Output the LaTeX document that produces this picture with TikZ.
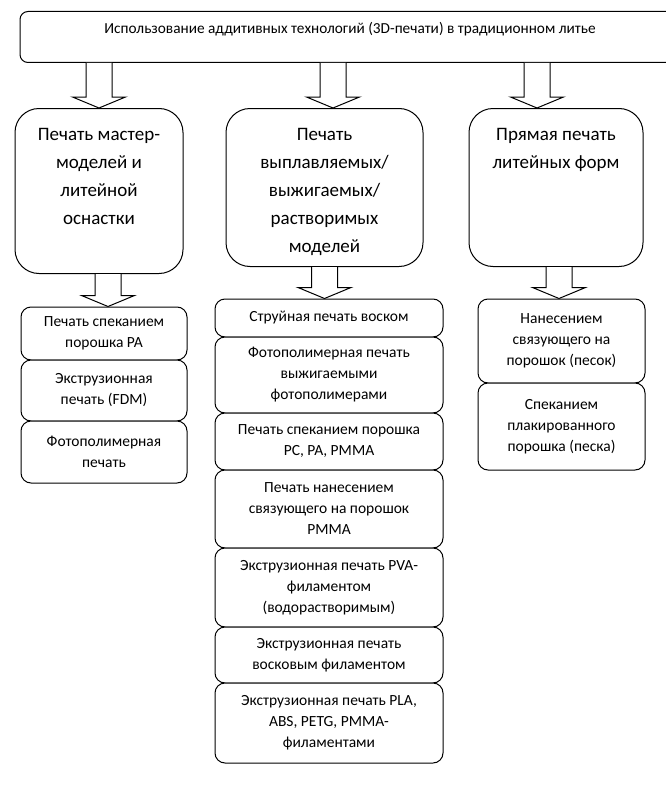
\documentclass[tikz,border=0pt]{standalone}
\usepackage{fontspec}
\setmainfont{Carlito}
\usetikzlibrary{calc}
\newcommand\bigfont{\fontsize{19}{28}\selectfont}
\newcommand\topfont{\fontsize{15.3}{17}\selectfont}
\newcommand\smallfont{\fontsize{15.5}{21}\selectfont}
\newcommand\bigtxt[3]{\parbox[t][#1][t]{#2}{\centering\bigfont\vspace*{12pt}\strut #3}}
\newcommand\barrow[3]{\draw[blockarrow] let \p1=(#2.south), \p2=(#3.north) in
  (#1pt-13pt,\y1) -- (#1pt-13pt,\y2+11pt) -- (#1pt-26.5pt,\y2+11pt) -- (#1pt,\y2)
  -- (#1pt+26.5pt,\y2+11pt) -- (#1pt+13pt,\y2+11pt) -- (#1pt+13pt,\y1);}
\tikzset{
  boxbase/.style={draw=black, line width=1pt, fill=white, inner sep=0pt},
  topbox/.style={boxbase, rounded corners=8pt, anchor=north},
  midbox/.style={boxbase, rounded corners=24pt, anchor=north},
  smallbox/.style={boxbase, rounded corners=10pt, align=center, font=\smallfont},
  blockarrow/.style={draw=black, line width=1pt, fill=white, line join=miter},
}
\begin{document}
\begin{tikzpicture}[x=1pt,y=-1pt]
\useasboundingbox (0,0) rectangle (666,800);
\clip (0,0) rectangle (666,800);
\fill[white] (0,0) rectangle (666,800);
% top box
\node[topbox] (top) at (350,11) {\parbox[t][51pt][t]{660pt}{\centering\topfont\vspace*{10pt}\strut Использование аддитивных технологий (3D-печати) в традиционном литье}};
% level 2
\node[midbox] (l1) at (99,108) {\bigtxt{165pt}{168pt}{Печать мастер-\\моделей и\\литейной\\оснастки}};
\node[midbox] (l2) at (324.5,108) {\bigtxt{158pt}{197pt}{Печать\\выплавляемых/\\выжигаемых/\\растворимых\\моделей}};
\node[midbox] (l3) at (556,108) {\bigtxt{158pt}{174pt}{Прямая печать\\литейных форм}};
% column 1
\node[smallbox, minimum width=166pt, minimum height=53pt] (c1a) at (104,333.5) {Печать спеканием\\порошка PA};
\node[smallbox, minimum width=166pt, minimum height=61pt] (c1b) at (104,390.5) {Экструзионная\\печать (FDM)};
\node[smallbox, minimum width=166pt, minimum height=62pt] (c1c) at (104,452) {Фотополимерная\\печать};
% column 2
\node[smallbox, minimum width=228pt, minimum height=38pt] (c2a) at (329,318) {Струйная печать воском};
\node[smallbox, minimum width=228pt, minimum height=76pt] (c2b) at (329,375) {Фотополимерная печать\\выжигаемыми\\фотополимерами};
\node[smallbox, minimum width=228pt, minimum height=57pt] (c2c) at (329,441.5) {Печать спеканием порошка\\PC, PA, PMMA};
\node[smallbox, minimum width=228pt, minimum height=78pt] (c2d) at (329,509) {Печать нанесением\\связующего на порошок\\PMMA};
\node[smallbox, minimum width=228pt, minimum height=79pt] (c2e) at (329,587.5) {Экструзионная печать PVA-\\филаментом\\(водорастворимым)};
\node[smallbox, minimum width=228pt, minimum height=56pt] (c2f) at (329,655) {Экструзионная печать\\восковым филаментом};
\node[smallbox, minimum width=228pt, minimum height=80pt] (c2g) at (329,723) {Экструзионная печать PLA,\\ABS, PETG, PMMA-\\филаментами};
% column 3
\node[smallbox, minimum width=167pt, minimum height=84pt] (c3a) at (561.5,341) {Нанесением\\связующего на\\порошок (песок)};
\node[smallbox, minimum width=167pt, minimum height=87pt] (c3b) at (561.5,426.5) {Спеканием\\плакированного\\порошка (песка)};
% arrows
\barrow{99}{top}{l1}
\barrow{333}{top}{l2}
\barrow{537}{top}{l3}
\barrow{108}{l1}{c1a}
\barrow{324.5}{l2}{c2a}
\barrow{559}{l3}{c3a}
\end{tikzpicture}
\end{document}
